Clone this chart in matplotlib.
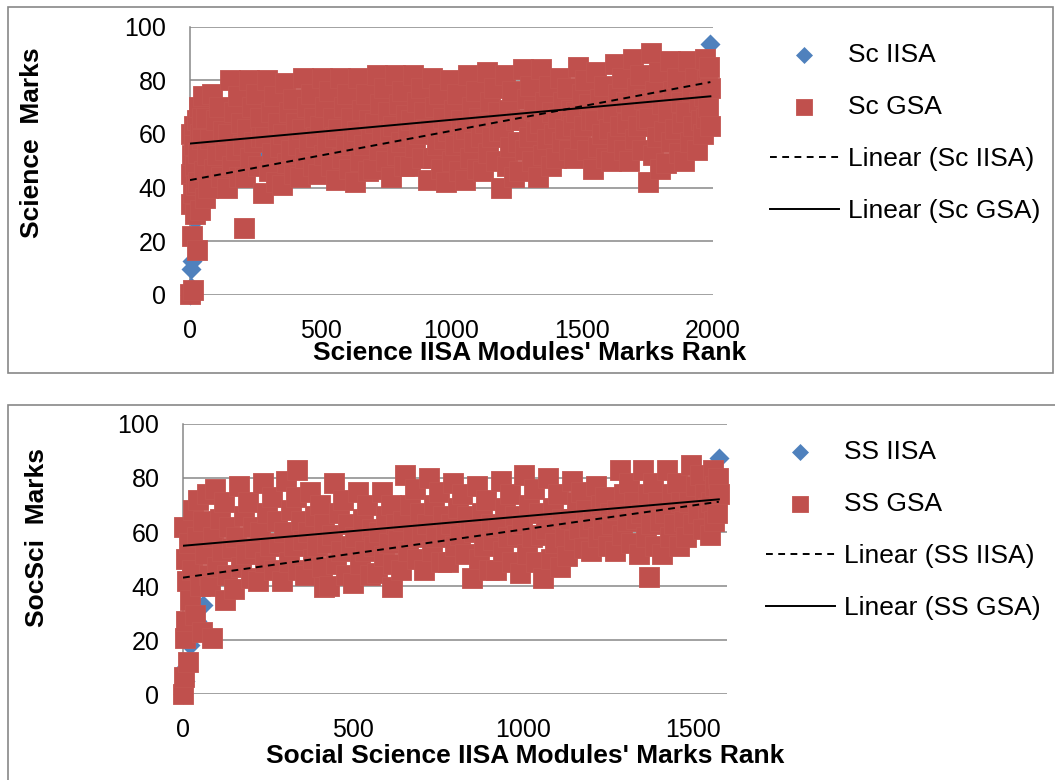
import matplotlib
matplotlib.use("Agg")
import matplotlib.pyplot as plt
from matplotlib.patches import Rectangle

plt.rcParams["font.family"] = ["Liberation Sans", "DejaVu Sans"]

RED = "#C0504D"
RED_EDGE = "#C35551"
BLUE = "#4F81BD"
GRID = "#878787"

# ---- Science panel ----
sc_iisa_rank = [0, 3, 5, 8, 12, 20, 40, 80, 150, 300, 500, 800, 1100, 1400, 1700, 1900, 1960, 1990]
sc_iisa_marks = [0, 3, 9.5, 12.5, 20, 28, 35, 42, 47, 52, 57, 62, 66, 70, 75, 82, 86, 93.6]

sc_gsa_rank = [
    0, 2, 3, 4, 6, 8, 10, 12, 14, 15, 18, 20, 22, 25, 28, 30, 32, 36, 38, 40, 44, 46, 48, 52, 56, 60, 64,
    70, 77, 84, 91, 98, 105, 112, 119, 126, 133,
    140, 147, 154, 161, 168, 175, 182, 189, 196, 203,
    205, 210, 217, 224, 231, 238, 245, 252, 259, 266, 273,
    280, 287, 294, 301, 308, 315, 322, 329, 336, 343,
    350, 357, 364, 371, 378, 385, 392, 399, 406, 413,
    420, 427, 434, 441, 448, 455, 462, 469, 476, 483,
    490, 497, 504, 511, 518, 525, 532, 539, 546, 553,
    560, 567, 574, 581, 588, 595, 602, 609, 616, 623,
    630, 637, 644, 651, 658, 665, 672, 679, 686, 693,
    700, 707, 714, 721, 728, 735, 742, 749, 756, 763,
    770, 777, 784, 791, 798, 805, 812, 819, 826, 833,
    840, 847, 854, 861, 868, 875, 882, 889, 896, 903,
    910, 917, 924, 931, 938, 945, 952, 959, 966, 973,
    980, 987, 994, 1001, 1008, 1015, 1022, 1029, 1036, 1043,
    1050, 1057, 1064, 1071, 1078, 1085, 1092, 1099, 1106, 1113,
    1120, 1127, 1134, 1141, 1148, 1155, 1162, 1169, 1176, 1183,
    1190, 1197, 1204, 1211, 1218, 1225, 1232, 1239, 1246, 1253,
    1260, 1267, 1274, 1281, 1288, 1295, 1302, 1309, 1316, 1323,
    1330, 1337, 1344, 1351, 1358, 1365, 1372, 1379, 1386, 1393,
    1400, 1407, 1414, 1421, 1428, 1435, 1442, 1449, 1456, 1463,
    1470, 1477, 1484, 1491, 1498, 1505, 1512, 1519, 1526, 1533,
    1540, 1547, 1554, 1561, 1568, 1575, 1582, 1589, 1596, 1603,
    1610, 1617, 1624, 1631, 1638, 1645, 1652, 1659, 1666, 1673,
    1680, 1687, 1694, 1701, 1708, 1715, 1722, 1729, 1736, 1743,
    1750, 1757, 1764, 1771, 1778, 1785, 1792, 1799, 1806, 1813,
    1820, 1827, 1834, 1841, 1848, 1855, 1862, 1869, 1876, 1883,
    1890, 1897, 1904, 1911, 1918, 1925, 1932, 1939, 1946, 1953,
    1960, 1964, 1968, 1972, 1976, 1980, 1984, 1988, 1990,
]
sc_gsa_marks = [
    0.5, 60, 34, 45, 22, 52, 38, 2, 63, 56, 30, 48, 41, 16.7, 65, 53, 42, 70, 60, 31.6, 58, 66, 74, 46, 36, 66, 52,
    40, 58, 75, 47, 65, 52, 70, 44, 61, 54,
    40, 60, 80, 48, 68, 54, 74, 44, 64, 56,
    25, 44, 62, 80, 51, 70, 57, 75, 48, 66, 59,
    38, 59, 80, 46, 68, 53, 74, 42, 64, 55,
    41, 60, 79, 49, 68, 54, 73, 45, 64, 56,
    44, 62, 81, 51, 70, 57, 75, 48, 66, 59,
    45, 63, 81, 52, 70, 57, 76, 48, 66, 59,
    43, 62, 81, 51, 70, 56, 75, 47, 66, 58,
    42, 61, 81, 50, 69, 56, 75, 46, 65, 58,
    47, 64, 82, 54, 71, 59, 77, 50, 68, 61,
    44, 63, 82, 52, 71, 57, 76, 48, 67, 59,
    48, 65, 82, 55, 72, 60, 77, 51, 68, 62,
    43, 62, 81, 51, 70, 56, 75, 47, 66, 58,
    42, 61, 80, 50, 69, 56, 75, 46, 65, 57,
    43, 62, 82, 51, 70, 57, 76, 47, 66, 59,
    46, 64, 83, 53, 72, 59, 77, 50, 68, 61,
    40, 61, 82, 48, 69, 55, 76, 44, 65, 57,
    46, 65, 84, 54, 73, 59, 78, 50, 69, 61,
    44, 64, 84, 52, 72, 58, 78, 48, 68, 60,
    51, 66, 81, 57, 72, 62, 77, 54, 69, 63,
    51, 68, 85, 58, 75, 63, 80, 54, 71, 65,
    47, 65, 83, 55, 73, 60, 78, 51, 69, 62,
    50, 68, 86, 57, 75, 63, 81, 54, 72, 64,
    50, 69, 88, 58, 77, 63, 82, 54, 73, 65,
    42, 66, 90, 52, 76, 59, 83, 47, 71, 61,
    49, 68, 87, 57, 76, 62, 81, 53, 72, 64,
    50, 68, 87, 57, 76, 63, 81, 54, 72, 65,
    60, 74, 88, 66, 80, 70, 85, 63, 77,
]

sc_trend_rank = [0, 1990]
sc_iisa_trend = [42.8, 79.3]
sc_gsa_trend = [56.4, 74.0]

# ---- Social Science panel ----
ss_iisa_rank = [0, 5, 10, 20, 40, 60, 150, 300, 500, 800, 1100, 1300, 1450, 1540, 1576]
ss_iisa_marks = [0, 5, 10, 18, 27, 33, 40, 46, 52, 58, 64, 68, 73, 80, 87.5]

ss_gsa_rank = [
    0, 2, 4, 6, 8, 10, 12, 15, 18, 22, 26, 30, 35, 40, 45, 50, 55, 60, 65, 70, 75,
    80, 84, 87, 94, 101, 108, 115, 122, 124, 129, 136, 143,
    150, 157, 164, 171, 178, 185, 192, 199, 206, 213,
    220, 227, 234, 241, 248, 255, 262, 269, 276, 283,
    290, 297, 304, 311, 318, 325, 332, 335, 339, 346, 353,
    360, 367, 374, 381, 388, 395, 402, 409, 415, 416, 423,
    430, 437, 444, 451, 458, 465, 472, 479, 486, 493,
    500, 507, 514, 521, 528, 535, 542, 549, 556, 563,
    570, 577, 584, 591, 598, 605, 612, 615, 619, 626, 633,
    640, 647, 654, 661, 668, 675, 682, 689, 696, 703,
    710, 717, 724, 731, 738, 745, 752, 759, 766, 773,
    780, 787, 794, 801, 808, 815, 822, 829, 836, 843,
    850, 857, 864, 871, 878, 885, 892, 899, 906, 913,
    920, 927, 934, 941, 948, 955, 962, 969, 976, 983,
    990, 997, 1004, 1011, 1018, 1025, 1032, 1039, 1046, 1053,
    1060, 1067, 1074, 1081, 1088, 1095, 1102, 1109, 1116, 1123,
    1130, 1137, 1144, 1151, 1158, 1165, 1172, 1179, 1186, 1193,
    1200, 1207, 1214, 1221, 1228, 1235, 1242, 1249, 1256, 1263,
    1270, 1277, 1284, 1291, 1298, 1305, 1312, 1319, 1326, 1333,
    1340, 1347, 1354, 1361, 1368, 1372, 1375, 1382, 1389, 1396, 1403,
    1410, 1417, 1424, 1431, 1438, 1445, 1452, 1459, 1466, 1473,
    1480, 1487, 1494, 1501, 1508, 1515, 1522, 1529, 1536, 1543,
    1550, 1554, 1558, 1562, 1566, 1570, 1574, 1576,
]
ss_gsa_marks = [
    0, 6.4, 62, 20.7, 50, 27, 42, 12, 56, 35, 46, 68, 29.3, 58, 72, 40, 23, 64, 52, 74, 44,
    40, 20.7, 58, 76, 47, 65, 53, 71, 34.8, 44, 62, 54,
    39, 58, 77, 47, 66, 52, 71, 43, 62, 54,
    42, 60, 78, 49, 67, 55, 73, 46, 64, 56,
    42, 60, 79, 49, 68, 55, 73, 83, 46, 64, 57,
    44, 60, 75, 50, 66, 55, 70, 47, 39.7, 63, 56,
    40, 59, 78, 48, 67, 53, 72, 44, 63, 55,
    41, 58, 75, 48, 65, 53, 70, 44, 61, 55,
    45, 60, 75, 51, 66, 56, 70, 39.7, 48, 63, 57,
    46, 64, 81, 53, 70, 58, 76, 50, 67, 60,
    46, 63, 80, 53, 70, 58, 75, 49, 66, 60,
    49, 63, 78, 55, 69, 59, 74, 52, 66, 61,
    43, 60, 77, 50, 67, 55, 72, 46, 63, 57,
    46, 62, 79, 53, 69, 58, 74, 49, 66, 59,
    45, 63, 81, 52, 70, 58, 76, 49, 67, 59,
    43, 61, 80, 50, 69, 56, 74, 47, 65, 58,
    51, 65, 79, 57, 71, 61, 75, 54, 68, 62,
    53, 65, 77, 58, 70, 61, 73, 55, 67, 63,
    53, 68, 83, 59, 74, 64, 78, 56, 71, 65,
    52, 67, 83, 58, 74, 43.4, 63, 78, 55, 71, 64,
    52, 67, 83, 58, 74, 63, 78, 55, 71, 64,
    58, 71, 85, 63, 77, 67, 81, 61, 74, 69,
    59, 71, 83, 64, 77, 67, 80, 74,
]

ss_trend_rank = [0, 1576]
ss_iisa_trend = [43.1, 71.2]
ss_gsa_trend = [54.9, 72.1]

W, H = 1055, 780


def fx(px):
    return px / W


def fy(py):
    return 1 - py / H


def draw_panel(ax, iisa_rank, iisa_marks, gsa_rank, gsa_marks,
               trend_rank, iisa_trend, gsa_trend, names, xmax, xticks, leg_xy):
    s_iisa = ax.scatter(iisa_rank, iisa_marks, s=104, marker="D", color=BLUE,
                        linewidths=0, clip_on=False, zorder=2)
    s_gsa = ax.scatter(gsa_rank, gsa_marks, s=200, marker="s", facecolor=RED,
                       edgecolor=RED_EDGE, linewidths=0.6, clip_on=False, zorder=3)
    l_iisa, = ax.plot(trend_rank, iisa_trend, color="black", lw=1.4,
                      dashes=(3.5, 2.8), zorder=4)
    l_gsa, = ax.plot(trend_rank, gsa_trend, color="black", lw=1.4, zorder=4)

    ax.set_xlim(0, xmax)
    ax.set_ylim(0, 100)
    ax.set_xticks(xticks)
    ax.set_yticks(range(0, 101, 20))
    ax.yaxis.grid(True, color=GRID, lw=1.1)
    ax.set_axisbelow(True)
    for side in ("top", "right", "bottom"):
        ax.spines[side].set_visible(False)
    ax.spines["left"].set_color(GRID)
    ax.spines["left"].set_linewidth(1.1)
    ax.spines["left"].set_zorder(0.5)
    ax.tick_params(length=0, labelsize=18)
    ax.tick_params(axis="y", pad=17)
    ax.tick_params(axis="x", pad=17)

    ax.legend([s_iisa, s_gsa, l_iisa, l_gsa], names, loc="upper left",
              bbox_to_anchor=leg_xy, bbox_transform=ax.figure.transFigure,
              frameon=False, fontsize=19, borderpad=0, borderaxespad=0,
              handlelength=2.6, handletextpad=0.35, labelspacing=1.06,
              markerscale=0.85, scatterpoints=1)


fig = plt.figure(figsize=(W / 100, H / 100), dpi=100)

# panel frames
fig.patches.append(Rectangle((fx(8), fy(373)), fx(1053) - fx(8), fy(6.5) - fy(373),
                             transform=fig.transFigure, fill=False,
                             edgecolor=GRID, lw=1.2))
fig.patches.append(Rectangle((fx(8), fy(790)), fx(1062) - fx(8), fy(405) - fy(790),
                             transform=fig.transFigure, fill=False,
                             edgecolor=GRID, lw=1.2))

ax1 = fig.add_axes([fx(190), fy(295), fx(713) - fx(190), fy(26.5) - fy(295)])
draw_panel(ax1, sc_iisa_rank, sc_iisa_marks, sc_gsa_rank, sc_gsa_marks,
           sc_trend_rank, sc_iisa_trend, sc_gsa_trend,
           ["Sc IISA", "Sc GSA", "Linear (Sc IISA)", "Linear (Sc GSA)"],
           2000, [0, 500, 1000, 1500, 2000], (fx(770), fy(43)))

ax2 = fig.add_axes([fx(183), fy(694), fx(727) - fx(183), fy(424) - fy(694)])
draw_panel(ax2, ss_iisa_rank, ss_iisa_marks, ss_gsa_rank, ss_gsa_marks,
           ss_trend_rank, ss_iisa_trend, ss_gsa_trend,
           ["SS IISA", "SS GSA", "Linear (SS IISA)", "Linear (SS GSA)"],
           1600, [0, 500, 1000, 1500], (fx(766), fy(440)))

bold = dict(fontsize=19, fontweight="bold", ha="center", va="center")
fig.text(fx(32), fy(142.5), "Science  Marks", rotation=90, **bold)
fig.text(fx(530), fy(353), "Science IISA Modules' Marks Rank", **bold)
fig.text(fx(37), fy(537.5), "SocSci  Marks", rotation=90, **bold)
fig.text(fx(525), fy(756), "Social Science IISA Modules' Marks Rank", **bold)

fig.savefig("out.png", dpi=100)
